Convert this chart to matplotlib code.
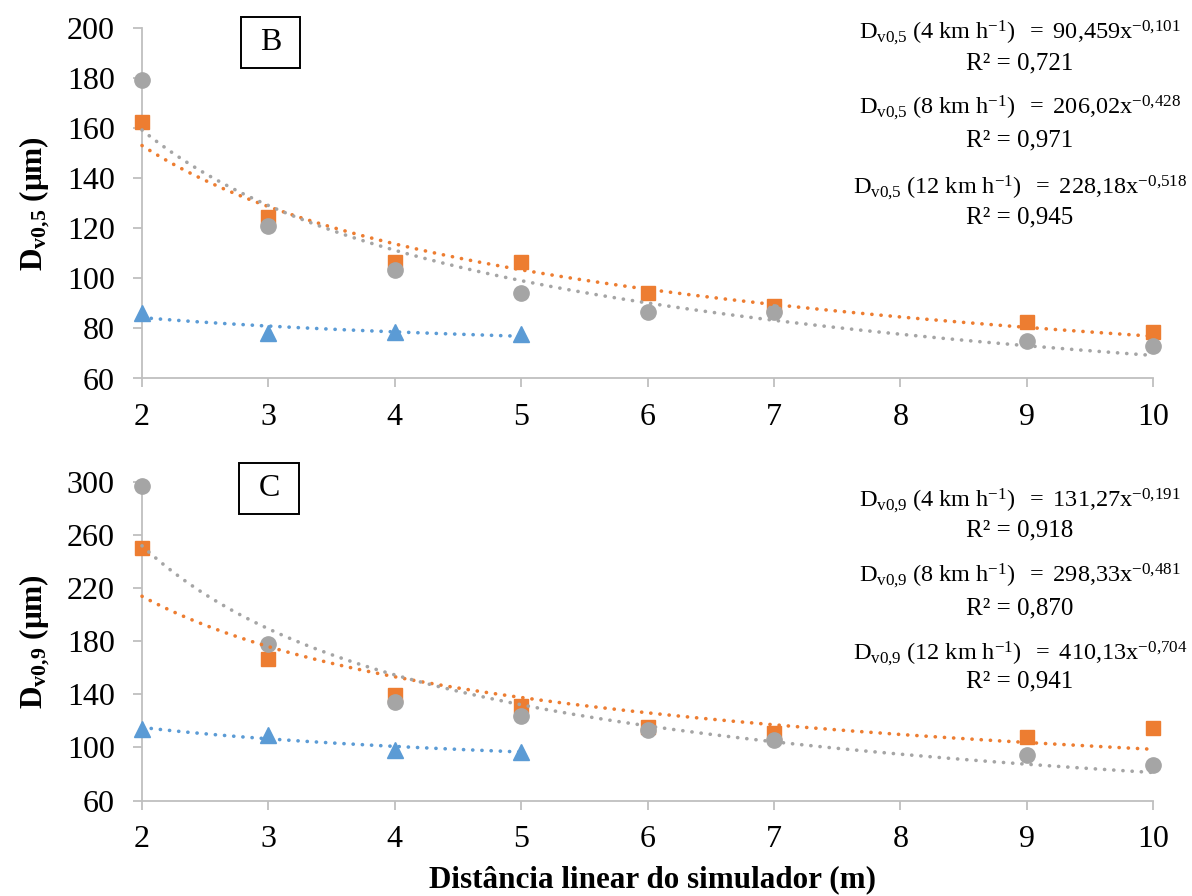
import numpy as np
import matplotlib
matplotlib.use("Agg")
import matplotlib.pyplot as plt
from matplotlib.patches import Rectangle

plt.rcParams['font.family'] = ['Liberation Serif', 'DejaVu Serif']
plt.rcParams['mathtext.fontset'] = 'custom'
plt.rcParams['mathtext.rm'] = 'Liberation Serif'
plt.rcParams['mathtext.it'] = 'Liberation Serif:italic'
plt.rcParams['mathtext.bf'] = 'Liberation Serif:bold'

# ---------------- data ----------------
x_all = [2, 3, 4, 5, 6, 7, 9, 10]
x_4 = [2, 3, 4, 5]
xticks = [2, 3, 4, 5, 6, 7, 8, 9, 10]

b_4 = [86, 78, 78.5, 77.8]
b_8 = [162.5, 124.5, 106.5, 106.5, 94, 89, 82.5, 78.5]
b_12 = [179.5, 121, 103.5, 94, 86.5, 86.5, 75, 73]

c_4 = [113.5, 109.3, 98, 96.2]
c_8 = [250, 166.5, 139.5, 131, 115.5, 111, 108, 114.5]
c_12 = [297, 177.5, 134.5, 123.5, 113, 105.5, 94, 86.5]

# power trendline coefficients (a, b) shown on chart: y = a * x^b
trend_b = {'4': (90.459, -0.101), '8': (206.02, -0.428), '12': (228.18, -0.518)}
trend_c = {'4': (131.27, -0.191), '8': (298.33, -0.481), '12': (410.13, -0.704)}
r2_b = {'4': '0,721', '8': '0,971', '12': '0,945'}
r2_c = {'4': '0,918', '8': '0,870', '12': '0,941'}
coef_txt_b = {'4': ('90,459', '-0,101'), '8': ('206,02', '-0,428'), '12': ('228,18', '-0,518')}
coef_txt_c = {'4': ('131,27', '-0,191'), '8': ('298,33', '-0,481'), '12': ('410,13', '-0,704')}

C_BLUE = '#5B9BD5'
C_ORANGE = '#ED7D31'
C_GRAY = '#A5A5A5'
AX_GRAY = '#BFBFBF'

W, H = 1192, 896
fig = plt.figure(figsize=(W / 100, H / 100), dpi=100)


def px_axes(l, r, t, b):
    return fig.add_axes([l / W, 1 - b / H, (r - l) / W, (b - t) / H])


def style_axes(ax, ylim, yticks):
    ax.set_xlim(2, 10)
    ax.set_ylim(*ylim)
    ax.set_xticks(xticks)
    ax.set_yticks(yticks)
    for s in ['top', 'right']:
        ax.spines[s].set_visible(False)
    for s in ['left', 'bottom']:
        ax.spines[s].set_color(AX_GRAY)
        ax.spines[s].set_linewidth(1.3)
    ax.tick_params(axis='both', colors=AX_GRAY, labelcolor='black', labelsize=23,
                   length=6.5, width=1.3, direction='out')
    ax.tick_params(axis='y', pad=13)
    ax.tick_params(axis='x', pad=11)


def dotted(ax, xs, a, b, color):
    xx = np.linspace(xs[0], xs[-1], 300)
    ax.plot(xx, a * xx ** b, color=color, lw=2.6, linestyle=(0, (0.05, 2.5)),
            dash_capstyle='round', zorder=5, clip_on=False)


def panel(ax, d4, d8, d12, trend):
    ax.plot(x_4, d4, linestyle='none', marker='^', ms=11.5, color=C_BLUE, zorder=3, clip_on=False)
    ax.plot(x_all, d8, linestyle='none', marker='s', ms=10.5, color=C_ORANGE, zorder=3, clip_on=False)
    ax.plot(x_all, d12, linestyle='none', marker='o', ms=11, color=C_GRAY, zorder=4, clip_on=False)
    dotted(ax, x_4, *trend['4'], C_BLUE)
    dotted(ax, x_all, *trend['8'], C_ORANGE)
    dotted(ax, x_all, *trend['12'], C_GRAY)


axB = px_axes(142, 1153, 28.3, 378.5)
style_axes(axB, (60, 200), [60, 80, 100, 120, 140, 160, 180, 200])
panel(axB, b_4, b_8, b_12, trend_b)
axB.set_ylabel(r'D$_{\mathbf{v0{,}5}}$ (μm)', fontsize=22.5, fontweight='bold', labelpad=11)

axC = px_axes(142, 1153, 481.7, 800.5)
style_axes(axC, (60, 300), [60, 100, 140, 180, 220, 260, 300])
panel(axC, c_4, c_8, c_12, trend_c)
axC.set_ylabel(r'D$_{\mathbf{v0{,}9}}$ (μm)', fontsize=22.5, fontweight='bold', labelpad=11)

fig.text(653 / W, 1 - 880 / H, 'Distância linear do simulador (m)', fontsize=22.4,
         fontweight='bold', ha='center', va='center')

# panel labels in boxes
for lab, (l, t, r, b) in [('B', (241, 17, 300, 68)), ('C', (239, 463, 299, 514))]:
    fig.patches.append(Rectangle((l / W, 1 - b / H), (r - l) / W, (b - t) / H,
                                 transform=fig.transFigure, fc='white', ec='black',
                                 lw=1.4, zorder=10))
    fig.text((l + r) / 2 / W, 1 - (t + b) / 2 / H, lab, fontsize=23, ha='center',
             va='center', zorder=11)


def nokern(s):
    # wrap every character in its own group so mathtext applies no kerning
    return ''.join('{' + c + '}' for c in s)


def eq_block(sub, speeds, coefs, r2s, ys, cx=1020):
    for sp, (y1, y2) in zip(speeds, ys):
        a, b = coefs[sp]
        s = (r'$\mathrm{D_{' + sub + r'}\ (' + sp + r'\ km\ h^{-1})\ \ =\ ' +
             nokern(a) + '{x}^{' + nokern(b) + '}}$')
        fig.text(cx / W, 1 - y1 / H, s, fontsize=17.5, ha='center', va='center')
        fig.text(cx / W, 1 - y2 / H, 'R² = ' + r2s[sp], fontsize=18, ha='center', va='center')


eq_block('v0{,}5', ['4', '8', '12'], coef_txt_b, r2_b, [(33, 63), (108, 140), (188, 217)])
eq_block('v0{,}9', ['4', '8', '12'], coef_txt_c, r2_c, [(501, 530), (576, 608), (654, 681)])

fig.savefig('out.png', dpi=100)
